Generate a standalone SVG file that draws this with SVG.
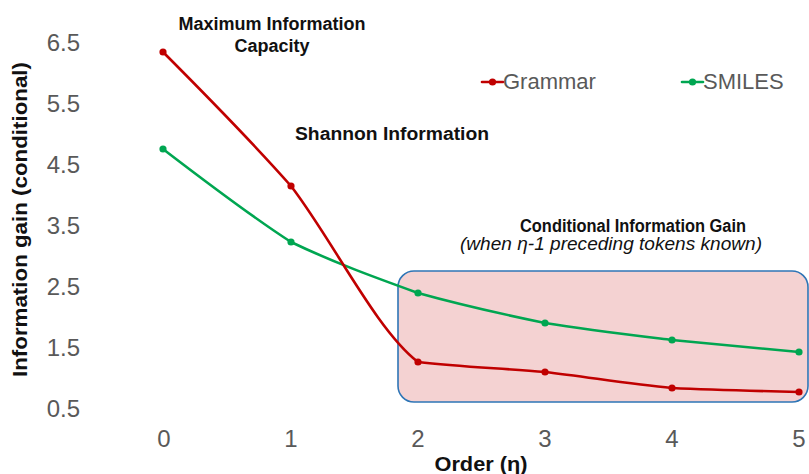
<svg xmlns="http://www.w3.org/2000/svg" width="809" height="474" viewBox="0 0 809 474">
  <style>
    text { font-family: "Liberation Sans", Arial, sans-serif; }
    .tick { font-size: 24px; fill: #595959; }
    .ytick { text-anchor: end; }
    .xtick { text-anchor: middle; }
    .note { font-size: 18px; font-weight: bold; fill: #111; }
    .axis-title { font-weight: bold; fill: #111; }
    .legend { font-size: 22px; fill: #595959; }
    .series { fill: none; stroke-width: 2.6; stroke-linejoin: round; stroke-linecap: round; }
    .grammar { stroke: #c00000; }
    .smiles { stroke: #00a651; }
    .dot-grammar { fill: #c00000; }
    .dot-smiles { fill: #00a651; }
  </style>
  <rect width="809" height="474" fill="#ffffff"/>

  <!-- highlighted region for orders 2..5 -->
  <g id="conditional-region">
    <rect x="398" y="271" width="410" height="131" rx="16" ry="16" fill="#f4d2d2" stroke="#2e75b6" stroke-width="1.6"/>
  </g>

  <!-- y axis tick labels -->
  <g id="y-ticks" class="tick ytick">
    <text x="80" y="51">6.5</text>
    <text x="80" y="112">5.5</text>
    <text x="80" y="173">4.5</text>
    <text x="80" y="234">3.5</text>
    <text x="80" y="295">2.5</text>
    <text x="80" y="356">1.5</text>
    <text x="80" y="417">0.5</text>
  </g>

  <!-- x axis tick labels -->
  <g id="x-ticks" class="tick xtick">
    <text x="164" y="447">0</text>
    <text x="291" y="447">1</text>
    <text x="418" y="447">2</text>
    <text x="545" y="447">3</text>
    <text x="672" y="447">4</text>
    <text x="799" y="447">5</text>
  </g>

  <!-- axis titles -->
  <g id="axis-titles" class="axis-title">
    <text transform="translate(27,219.5) rotate(-90)" text-anchor="middle" font-size="21" textLength="315" lengthAdjust="spacingAndGlyphs">Information gain (conditional)</text>
    <text x="481" y="471" text-anchor="middle" font-size="20" textLength="93" lengthAdjust="spacingAndGlyphs">Order (η)</text>
  </g>

  <!-- data series (lightly smoothed) -->
  <g id="connectors">
    <path class="series smiles" d="M163,149 C205.67,181.7 248.33,214.5 291,242 C333.33,262.4 375.67,277.7 418,293 C460,304.7 502,314.1 545,323 C586.67,329.8 629.33,334.8 672,340 C714.33,344.4 756.67,348.2 799,352"/>
    <path class="series grammar" d="M163,52 C205.67,94.8 248.33,137.7 291,186 C333.33,241.1 375.67,329.3 418,362 C460,367 502,368.2 545,372 C586.67,376.8 629.33,384 672,388 C714.33,390 756.67,391 799,392"/>
  </g>

  <g id="smiles-points" class="dot-smiles">
    <circle cx="163" cy="149" r="3.6"/>
    <circle cx="291" cy="242" r="3.6"/>
    <circle cx="418" cy="293" r="3.6"/>
    <circle cx="545" cy="323" r="3.6"/>
    <circle cx="672" cy="340" r="3.6"/>
    <circle cx="799" cy="352" r="3.6"/>
  </g>
  <g id="grammar-points" class="dot-grammar">
    <circle cx="163" cy="52" r="3.6"/>
    <circle cx="291" cy="186" r="3.6"/>
    <circle cx="418" cy="362" r="3.6"/>
    <circle cx="545" cy="372" r="3.6"/>
    <circle cx="672" cy="388" r="3.6"/>
    <circle cx="799" cy="392" r="3.6"/>
  </g>

  <!-- legend -->
  <g id="legend-grammar">
    <line x1="482" y1="82" x2="503" y2="82" class="series grammar"/>
    <circle cx="492.5" cy="82" r="3.6" class="dot-grammar"/>
    <text x="503" y="89" class="legend">Grammar</text>
  </g>
  <g id="legend-smiles">
    <line x1="682" y1="82" x2="703" y2="82" class="series smiles"/>
    <circle cx="692.5" cy="82" r="3.6" class="dot-smiles"/>
    <text x="703" y="89" class="legend">SMILES</text>
  </g>

  <!-- annotations -->
  <g id="note-max-capacity" class="note" text-anchor="middle">
    <text x="272" y="30">Maximum Information</text>
    <text x="272" y="52">Capacity</text>
  </g>
  <g id="note-shannon" class="note">
    <text x="295" y="140" textLength="194" lengthAdjust="spacingAndGlyphs">Shannon Information</text>
  </g>
  <g id="note-conditional" text-anchor="middle">
    <text x="633" y="232" class="note" font-size="17" textLength="226" lengthAdjust="spacingAndGlyphs">Conditional Information Gain</text>
    <text x="611" y="250" font-size="18" font-style="italic" fill="#111" textLength="302" lengthAdjust="spacingAndGlyphs">(when η-1 preceding tokens known)</text>
  </g>
</svg>
